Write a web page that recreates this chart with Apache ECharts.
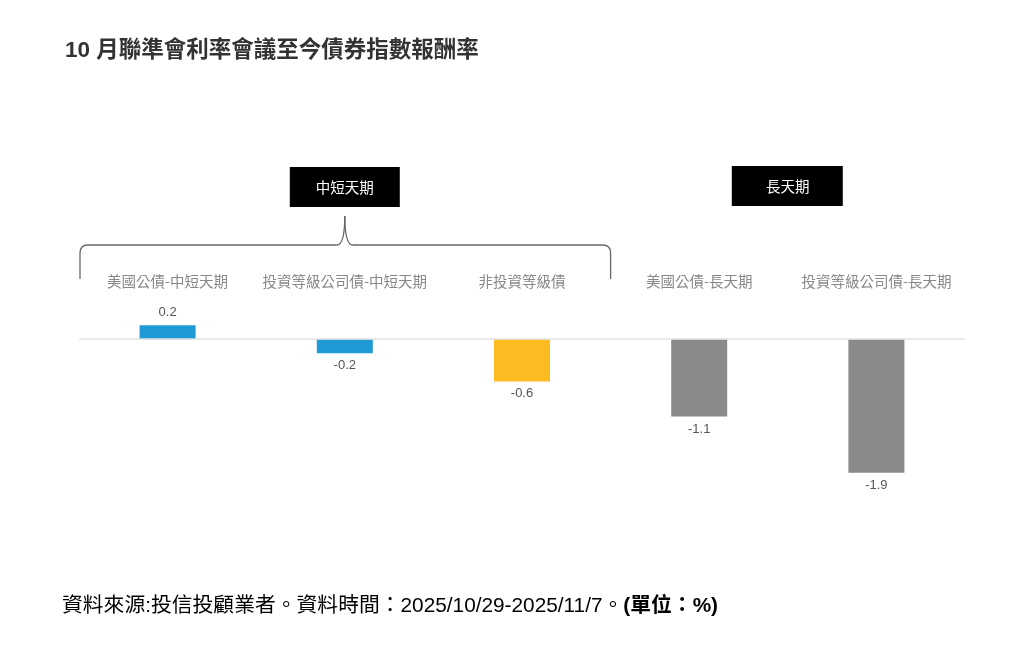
<!DOCTYPE html>
<html><head><meta charset="utf-8">
<script src="https://cdn.jsdelivr.net/npm/echarts@6/dist/echarts.min.js"></script>
<style>html,body{margin:0;padding:0;background:#fff}#c{width:1024px;height:660px}</style>
</head><body><div id="c"></div>
<script>
const categories = ['美國公債-中短天期','投資等級公司債-中短天期','非投資等級債','美國公債-長天期','投資等級公司債-長天期'];
const values = [0.2, -0.2, -0.6, -1.1, -1.9];
const barColors = ['#1f9ad6','#1f9ad6','#fdbb22','#8a8a8a','#8a8a8a'];
const groupShort = '中短天期';
const groupLong = '長天期';
const titleText = '10 月聯準會利率會議至今債券指數報酬率';
const sourceText = '資料來源:投信投顧業者。資料時間：2025/10/29-2025/11/7。';
const unitText = '(單位：%)';

const FONT = '"Liberation Sans","Noto Sans CJK TC",sans-serif';
const CJK = '"Noto Sans CJK TC","Liberation Sans",sans-serif';
const chart = echarts.init(document.getElementById('c'));
const option = {
  backgroundColor: '#fff',
  animation: false,
  title: {
    text: titleText, left: 60, top: 35,
    textStyle: {fontFamily: FONT, fontSize: 22.5, fontWeight: 'bold', color: '#333'}
  },
  grid: {left: 79, right: 59, top: 297, bottom: 152},
  xAxis: {
    type: 'category', data: categories, position: 'top',
    axisLine: {show: false, onZero: false}, axisTick: {show: false},
    axisLabel: {interval: 0, fontFamily: CJK, fontSize: 14.5, color: '#888', margin: 8}
  },
  yAxis: {type: 'value', min: -2.4, max: 0.6, show: false, splitLine: {show: false}},
  series: [{
    type: 'bar', barWidth: 56,
    data: values.map((v, i) => ({
      value: v,
      itemStyle: {color: barColors[i]},
      label: {position: v >= 0 ? 'top' : 'bottom'}
    })),
    label: {show: true, fontFamily: '"Liberation Sans",Arial,sans-serif', fontSize: 13, color: '#555',
      distance: 6, formatter: p => p.value.toFixed(1)},
    markLine: {
      silent: true, symbol: 'none', label: {show: false},
      lineStyle: {color: '#e3e3e3', width: 1.5, type: 'solid'},
      data: [{yAxis: 0}]
    }
  }]
};
chart.setOption(option);

function px(i) { return chart.convertToPixel({xAxisIndex: 0}, categories[i]); }
const c0 = px(0), c1 = px(1), c2 = px(2), c3 = px(3), c4 = px(4);
const step = c1 - c0;
const bL = c0 - step * 0.5 + 1, bR = c2 + step * 0.5, bM = c1;
const yBot = 279, yMid = 245, yTop = 216, r = 8;
const braceStyle = {stroke: '#666', lineWidth: 1.3, fill: 'none'};
const seg = (x1, y1, x2, y2) => ({type: 'line', shape: {x1, y1, x2, y2}, style: braceStyle});
const curve = (x1, y1, cx, cy, x2, y2) => ({type: 'bezierCurve', shape: {x1, y1, x2, y2, cpx1: cx, cpy1: cy}, style: braceStyle});
const longMid = (c3 + c4) / 2;
chart.setOption({
  graphic: [
    seg(bL, yBot, bL, yMid + r),
    curve(bL, yMid + r, bL, yMid, bL + r, yMid),
    seg(bL + r, yMid, bM - r, yMid),
    curve(bM - r, yMid, bM, yMid, bM, yTop),
    curve(bM, yTop, bM, yMid, bM + r, yMid),
    seg(bM + r, yMid, bR - r, yMid),
    curve(bR - r, yMid, bR, yMid, bR, yMid + r),
    seg(bR, yMid + r, bR, yBot),
    {type: 'rect', shape: {x: c1 - 55, y: 167, width: 110, height: 40}, style: {fill: '#000'}},
    {type: 'text', x: c1, y: 187, style: {text: groupShort, fill: '#fff', font: '14.5px ' + CJK, textAlign: 'center', textVerticalAlign: 'middle'}},
    {type: 'rect', shape: {x: longMid - 56, y: 166, width: 111, height: 40}, style: {fill: '#000'}},
    {type: 'text', x: longMid, y: 186, style: {text: groupLong, fill: '#fff', font: '14.5px ' + CJK, textAlign: 'center', textVerticalAlign: 'middle'}},
    {type: 'text', x: 62, y: 606, style: {
      text: '{a|' + sourceText + '}{b|' + unitText + '}',
      textVerticalAlign: 'middle',
      rich: {
        a: {fontFamily: FONT, fontSize: 20.8, color: '#222'},
        b: {fontFamily: FONT, fontSize: 20.8, color: '#222', fontWeight: 'bold'}
      }
    }}
  ]
});
</script></body></html>
